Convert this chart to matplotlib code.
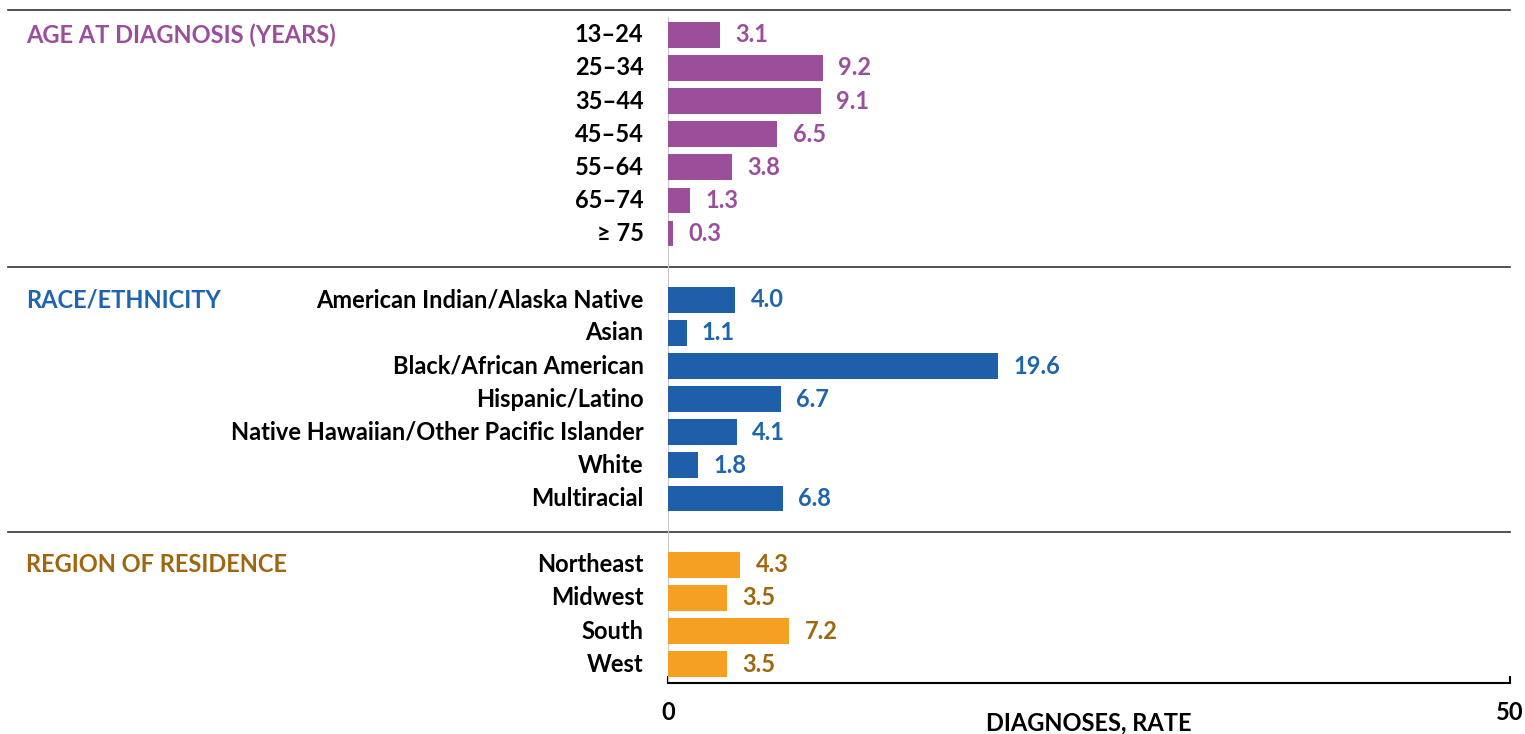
import matplotlib
matplotlib.use("Agg")
import matplotlib.pyplot as plt
import matplotlib.transforms as mtransforms

# data
age_labels = ["13\u201324", "25\u201334", "35\u201344", "45\u201354", "55\u201364", "65\u201374", "\u2265 75"]
age_vals = [3.1, 9.2, 9.1, 6.5, 3.8, 1.3, 0.3]
race_labels = ["American Indian/Alaska Native", "Asian", "Black/African American", "Hispanic/Latino",
               "Native Hawaiian/Other Pacific Islander", "White", "Multiracial"]
race_vals = [4.0, 1.1, 19.6, 6.7, 4.1, 1.8, 6.8]
region_labels = ["Northeast", "Midwest", "South", "West"]
region_vals = [4.3, 3.5, 7.2, 3.5]
group_titles = ["AGE AT DIAGNOSIS (YEARS)", "RACE/ETHNICITY", "REGION OF RESIDENCE"]

bar_cols = ["#9B4F9B", "#1F5FAA", "#F5A021"]
txt_cols = ["#9B4F9B", "#1F64AE", "#A0660F"]

plt.rcParams['font.family'] = ['Lato', 'DejaVu Sans']
plt.rcParams['font.weight'] = 'bold'
FS = 17

fig = plt.figure(figsize=(15.25, 7.34), dpi=100)
ax = fig.add_axes([668 / 1525, 51 / 734, (1510 - 668) / 1525, (724 - 51) / 734])
trans = mtransforms.blended_transform_factory(fig.transFigure, ax.transData)

groups = [(age_labels, age_vals), (race_labels, race_vals), (region_labels, region_vals)]
pos = 0
for g, (labels, vals) in enumerate(groups):
    ys = list(range(pos, pos + len(labels)))
    ax.barh(ys, vals, height=0.78, color=bar_cols[g], zorder=3)
    for y, lab, v in zip(ys, labels, vals):
        ax.text(-1.45, y, lab, ha='right', va='center', fontsize=FS, fontweight='bold', color='black')
        ax.text(v + 0.9, y, f"{v:.1f}", ha='left', va='center', fontsize=FS, fontweight='bold',
                color=txt_cols[g])
    ax.text(26 / 1525, pos, group_titles[g], transform=trans, ha='left', va='center',
            fontsize=FS, fontweight='bold', color=txt_cols[g])
    # separator line above group
    sep = pos - 0.75 if g == 0 else pos - 1
    ax.plot([8 / 1525, 1510 / 1525], [sep, sep], transform=trans, color='#333333', lw=1.2, clip_on=False)
    pos += len(labels) + 1

last = pos - 2
ax.set_ylim(last + 0.57, -0.75)
ax.set_xlim(0, 50)
ax.plot([0, 0], [-0.5, last + 0.57], color='#C8C8C8', lw=1.5, zorder=2)

for s in ['left', 'top', 'right']:
    ax.spines[s].set_visible(False)
ax.spines['bottom'].set_linewidth(1.5)
ax.spines['bottom'].set_color('black')
ax.set_yticks([])
ax.set_xticks([0, 50])
ax.tick_params(axis='x', direction='in', length=5, width=1.5, labelsize=FS, pad=13)
for t in ax.get_xticklabels():
    t.set_fontweight('bold')
ax.set_xlabel("DIAGNOSES, RATE", fontsize=FS, fontweight='bold', labelpad=-9)

fig.savefig("out.png", dpi=100)
